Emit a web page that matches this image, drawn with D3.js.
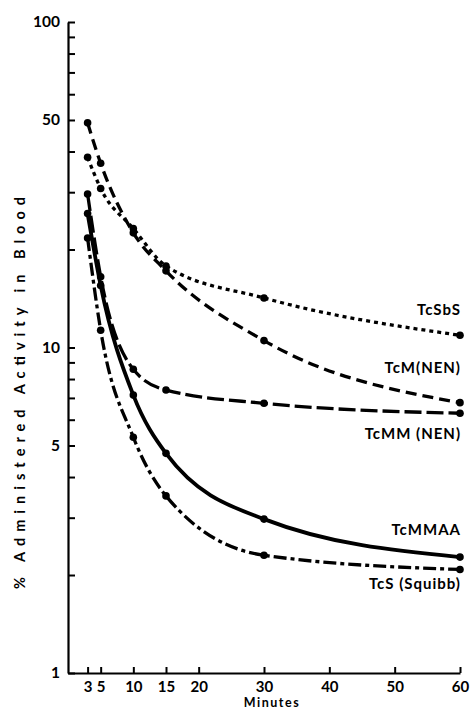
<!DOCTYPE html>
<html>
<head>
<meta charset="utf-8">
<script src="https://cdn.jsdelivr.net/npm/d3@7"></script>
<style>
  body { margin: 0; background: #fff; }
  svg text { font-family: Lato, "DejaVu Sans", sans-serif; fill: #000; }
</style>
</head>
<body>
<div id="chart"></div>
<script>
// Sampling times (minutes) and % administered activity in blood
var minutes = [3, 5, 10, 15, 30, 60];
var tcSbS   = [38.4, 30.8, 23.2, 17.8, 14.2, 10.9];
var tcM     = [49, 36.8, 22.5, 17.2, 10.5, 6.77];
var tcMM    = [29.6, 16.5, 8.57, 7.4, 6.74, 6.28];
var tcMMAA  = [25.8, 15.5, 7.14, 4.73, 2.97, 2.27];
var tcS     = [21.7, 11.3, 5.3, 3.5, 2.3, 2.08];

var seriesNames = ["TcSbS", "TcM(NEN)", "TcMM (NEN)", "TcMMAA", "TcS (Squibb)"];
var xTicks = [3, 5, 10, 15, 20, 30, 40, 50, 60];
var yTicks = [1, 2, 3, 4, 5, 6, 7, 8, 9, 10, 20, 30, 40, 50, 60, 70, 80, 90, 100];
var yLabels = [1, 5, 10, 50, 100];

var svgWidth = 470;
var svgHeight = 711;

var svg = d3.select("#chart")
    .append("svg")
    .attr("width", svgWidth)
    .attr("height", svgHeight);

var xScale = d3.scaleLinear().domain([0, 60]).range([68, 460]);
var yScale = d3.scaleLog().domain([1, 100]).range([673, 22]);

// axes, ticks point inward
var xAxis = d3.axisBottom(xScale)
    .tickValues(xTicks)
    .tickSizeInner(-6)
    .tickSizeOuter(0)
    .tickPadding(8);

var yAxis = d3.axisLeft(yScale)
    .tickValues(yTicks)
    .tickSizeInner(-7)
    .tickSizeOuter(0)
    .tickPadding(6)
    .tickFormat(d => yLabels.includes(d) ? d : "");

var gx = svg.append("g")
    .attr("transform", "translate(0,673)")
    .call(xAxis);

var gy = svg.append("g")
    .attr("transform", "translate(68,0)")
    .call(yAxis);

[gx, gy].forEach(g => {
    g.select(".domain").attr("stroke", "#000").attr("stroke-width", 2.2);
    g.selectAll(".tick line").attr("stroke", "#000").attr("stroke-width", 2);
    g.selectAll(".tick text")
        .style("font-family", "Lato, sans-serif")
        .style("font-size", "15px")
        .style("font-weight", "bold");
});
gy.selectAll(".tick text").attr("dx", -2).style("font-size", "15.5px");

// axis titles
svg.append("text")
    .attr("transform", "translate(25,393) rotate(-90)")
    .attr("text-anchor", "middle")
    .attr("textLength", 392)
    .style("font-size", "14.5px")
    .style("font-weight", "bold")
    .text("% Administered Activity in Blood");

svg.append("text")
    .attr("x", 272)
    .attr("y", 707)
    .attr("text-anchor", "middle")
    .style("font-size", "12.5px")
    .style("font-weight", "bold")
    .style("letter-spacing", "1.5px")
    .text("Minutes");

var series = [
    { name: seriesNames[0], values: tcSbS,  dash: "4,4",         width: 3.3, ly: 315 },
    { name: seriesNames[1], values: tcM,    dash: "11,6",        width: 3.3, ly: 373 },
    { name: seriesNames[2], values: tcMM,   dash: "17,5",        width: 3.3, ly: 439 },
    { name: seriesNames[3], values: tcMMAA, dash: null,          width: 3.8, ly: 535 },
    { name: seriesNames[4], values: tcS,    dash: "13,4,4,4",    width: 3.3, ly: 589 }
];

var line = d3.line()
    .x(d => xScale(d[0]))
    .y(d => yScale(d[1]))
    .curve(d3.curveMonotoneX);

series.forEach(s => {
    var pts = minutes.map((m, i) => [m, s.values[i]]);
    svg.append("path")
        .datum(pts)
        .attr("d", line)
        .attr("fill", "none")
        .attr("stroke", "#000")
        .attr("stroke-width", s.width)
        .attr("stroke-dasharray", s.dash);

    svg.append("g")
        .selectAll("circle")
        .data(pts)
        .join("circle")
        .attr("cx", d => xScale(d[0]))
        .attr("cy", d => yScale(d[1]))
        .attr("r", 3.8)
        .attr("fill", "#000");

    svg.append("text")
        .attr("x", 461)
        .attr("y", s.ly)
        .attr("text-anchor", "end")
        .style("font-size", "15px")
        .style("font-weight", "bold")
        .style("letter-spacing", "1px")
        .text(s.name);
});
</script>
</body>
</html>
